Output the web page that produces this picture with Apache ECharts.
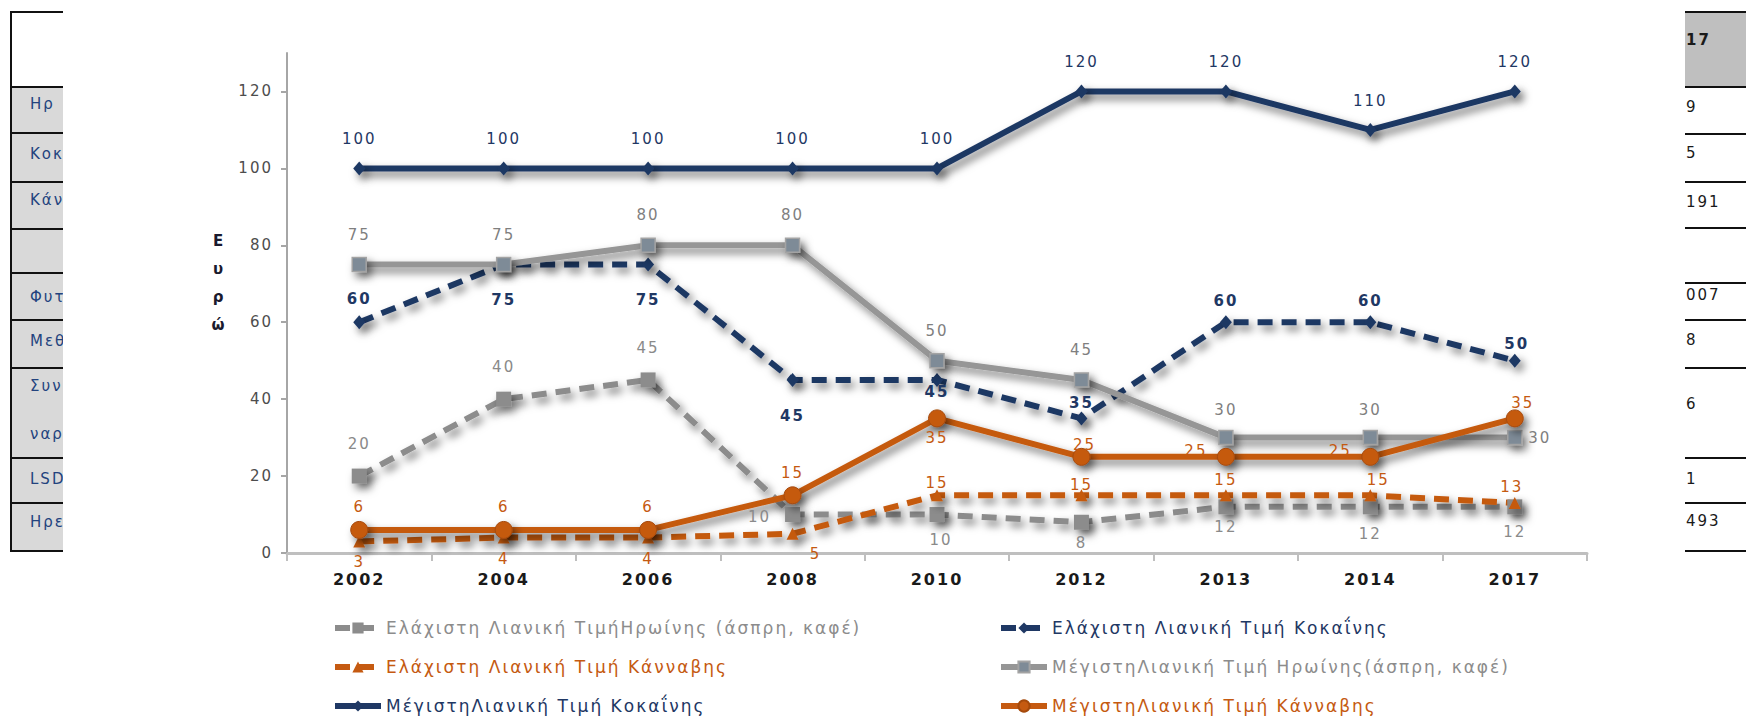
<!DOCTYPE html>
<html>
<head>
<meta charset="utf-8">
<script src="https://cdn.jsdelivr.net/npm/echarts@6/dist/echarts.min.js"></script>
<style>
  html, body { margin: 0; padding: 0; background: #ffffff; }
  #chart { width: 1746px; height: 719px; letter-spacing: 2px; }
</style>
</head>
<body>
<div id="chart"></div>
<script>
// Retail drug prices (euro) by year
const years = ['2002', '2004', '2006', '2008', '2010', '2012', '2013', '2014', '2017'];
const minHeroin   = [20, 40, 45, 10, 10, 8, 12, 12, 12];
const minCocaine  = [60, 75, 75, 45, 45, 35, 60, 60, 50];
const minCannabis = [3, 4, 4, 5, 15, 15, 15, 15, 13];
const maxHeroin   = [75, 75, 80, 80, 50, 45, 30, 30, 30];
const maxCocaine  = [100, 100, 100, 100, 100, 120, 120, 110, 120];
const maxCannabis = [6, 6, 6, 15, 35, 25, 25, 25, 35];
const yTicks = [0, 20, 40, 60, 80, 100, 120];
const yAxisTitle = ['Ε', 'υ', 'ρ', 'ώ'];

const seriesNames = {
  minHeroin: 'Ελάχιστη Λιανική ΤιμήΗρωίνης (άσπρη, καφέ)',
  minCocaine: 'Ελάχιστη Λιανική Τιμή Κοκαΐνης',
  minCannabis: 'Ελάχιστη Λιανική Τιμή Κάνναβης',
  maxHeroin: 'ΜέγιστηΛιανική Τιμή Ηρωίνης(άσπρη, καφέ)',
  maxCocaine: 'ΜέγιστηΛιανική Τιμή Κοκαΐνης',
  maxCannabis: 'ΜέγιστηΛιανική Τιμή Κάνναβης'
};

// Fragments of the table that sits behind the chart
const leftRowTexts = ['Ηρ', 'Κοκ', 'Κάν', '', 'Φυτ', 'Μεθ', 'Συν', 'ναρ', 'LSD', 'Ηρε'];
const rightColTexts = ['17', '9', '5', '191', '', '007', '8', '6', '', '1', '493'];

// Label nudges (dx, dy) from each point's centre
const labelNudge = {
  minHeroin:   [[0, -32], [0, -32], [0, -32], [-33, 2], [4, 25], [0, 21], [0, 20], [0, 27], [0, 25]],
  minCocaine:  [[0, -23], [0, 35], [0, 35], [0, 36], [0, 12], [0, -15], [0, -21], [0, -21], [2, -17]],
  minCannabis: [[0, 21], [0, 21], [0, 21], [23, 20], [0, -12], [0, -10], [0, -15], [8, -15], [-3, -16]],
  maxHeroin:   [[0, -30], [0, -30], [0, -30], [0, -30], [0, -30], [0, -30], [0, -28], [0, -28], [25, 0]],
  maxCocaine:  [[0, -29], [0, -29], [0, -29], [0, -29], [0, -29], [0, -29], [0, -29], [0, -29], [0, -29]],
  maxCannabis: [[0, -23], [0, -23], [0, -23], [0, -22], [0, 20], [3, -12], [-30, -6], [-30, -6], [8, -15]]
};

const NAVY = '#1f3864';
const GREY = '#8c8c8c';
const ORANGE = '#c55a11';
const FONT = '"DejaVu Sans", sans-serif';

const shadow = {
  shadowColor: 'rgba(0,0,0,0.55)',
  shadowBlur: 8,
  shadowOffsetX: 4,
  shadowOffsetY: 5
};

function lineSeries(key, values, cfg) {
  return {
    name: seriesNames[key],
    type: 'line',
    data: values.map((v, i) => ({ value: v, label: { offset: labelNudge[key][i] } })),
    symbol: cfg.symbol,
    symbolSize: cfg.size,
    lineStyle: Object.assign({
      color: cfg.color,
      width: 6,
      type: cfg.dashed ? [15, 9] : 'solid'
    }, shadow),
    itemStyle: Object.assign({
      color: cfg.fill || cfg.color,
      borderColor: cfg.border || cfg.color,
      borderWidth: cfg.borderWidth || 0
    }, shadow),
    label: {
      show: true,
      position: 'inside',
      color: cfg.labelColor,
      fontSize: 15,
      fontWeight: cfg.labelWeight || 'normal',
      fontFamily: FONT
    },
    emphasis: { disabled: true },
    silent: true,
    animation: false
  };
}

// Table background pieces
const graphics = [];
const leftBorders = [12, 87, 133, 182, 229, 273, 320, 368, 458, 503, 551];
const rightBorders = [12, 87, 134, 182, 228, 283, 320, 368, 458, 503, 551];
const LEFT_X0 = 10, LEFT_X1 = 63, RIGHT_X0 = 1685, RIGHT_X1 = 1746;

graphics.push({
  type: 'rect', z: -20, silent: true,
  shape: { x: LEFT_X0, y: leftBorders[1], width: LEFT_X1 - LEFT_X0, height: leftBorders[leftBorders.length - 1] - leftBorders[1] },
  style: { fill: '#d9d9d9' }
});
graphics.push({
  type: 'rect', z: -20, silent: true,
  shape: { x: RIGHT_X0, y: rightBorders[0], width: RIGHT_X1 - RIGHT_X0, height: rightBorders[1] - rightBorders[0] },
  style: { fill: '#bfbfbf' }
});
leftBorders.forEach(y => graphics.push({
  type: 'line', z: -19, silent: true,
  shape: { x1: LEFT_X0, y1: y, x2: LEFT_X1, y2: y },
  style: { stroke: '#111', lineWidth: 2 }
}));
graphics.push({
  type: 'line', z: -19, silent: true,
  shape: { x1: LEFT_X0 + 1, y1: leftBorders[0], x2: LEFT_X0 + 1, y2: leftBorders[leftBorders.length - 1] },
  style: { stroke: '#111', lineWidth: 2 }
});
rightBorders.forEach(y => graphics.push({
  type: 'line', z: -19, silent: true,
  shape: { x1: RIGHT_X0, y1: y, x2: RIGHT_X1, y2: y },
  style: { stroke: '#111', lineWidth: 2 }
}));
const leftTextY = [104, 154, 200, 251, 297, 341, 386, 434, 479, 522];
leftRowTexts.forEach((t, i) => {
  if (!t) return;
  graphics.push({
    type: 'text', z: -18, silent: true, x: 30, y: leftTextY[i],
    style: { text: t, fill: '#23437e', font: '15px ' + FONT, verticalAlign: 'middle' }
  });
});
const rightTextY = [40, 107, 153, 202, 250, 295, 340, 404, 440, 479, 521];
rightColTexts.forEach((t, i) => {
  if (!t) return;
  graphics.push({
    type: 'text', z: -18, silent: true, x: RIGHT_X0 + 1, y: rightTextY[i],
    style: { text: t, fill: '#1a1a1a', font: (i === 0 ? 'bold ' : '') + '15px ' + FONT, verticalAlign: 'middle' }
  });
});
// white area of the chart laid over the table
graphics.push({
  type: 'rect', z: -10, silent: true,
  shape: { x: LEFT_X1, y: 0, width: RIGHT_X0 - LEFT_X1, height: 719 },
  style: { fill: '#ffffff' }
});
// vertical axis title, one letter per line
yAxisTitle.forEach((ch, i) => {
  graphics.push({
    type: 'text', z: 5, silent: true, x: 219, y: 241 + i * 28,
    style: { text: ch, fill: '#1a1a2e', font: 'bold 15px ' + FONT, align: 'center', verticalAlign: 'middle' }
  });
});

function legendItems(keys) {
  const colours = {
    minHeroin: '#8c8c8c', minCocaine: NAVY, minCannabis: ORANGE,
    maxHeroin: '#8c8c8c', maxCocaine: NAVY, maxCannabis: ORANGE
  };
  return keys.map(k => ({ name: seriesNames[k], textStyle: { color: colours[k] } }));
}

const legendBase = {
  orient: 'vertical',
  top: 619,
  padding: 0,
  itemWidth: 46,
  itemHeight: 14,
  itemGap: 21,
  selectedMode: false,
  lineStyle: { width: 6 },
  textStyle: { fontSize: 17, fontFamily: FONT, lineHeight: 18 }
};

const option = {
  backgroundColor: '#ffffff',
  animation: false,
  graphic: graphics,
  grid: { left: 287, right: 159, top: 53, bottom: 166, containLabel: false, outerBoundsMode: 'none' },
  legend: [
    Object.assign({ left: 332, data: legendItems(['minHeroin', 'minCannabis', 'maxCocaine']) }, legendBase),
    Object.assign({ left: 998, data: legendItems(['minCocaine', 'maxHeroin', 'maxCannabis']) }, legendBase)
  ],
  xAxis: {
    type: 'category',
    data: years,
    boundaryGap: true,
    axisLine: { show: true, lineStyle: { color: '#bfbfbf', width: 3 } },
    axisTick: { show: true, length: 8, lineStyle: { color: '#bfbfbf', width: 2 } },
    axisLabel: { color: '#1a1a1a', fontWeight: 'bold', fontSize: 16, fontFamily: FONT, margin: 18 },
    splitLine: { show: false }
  },
  yAxis: {
    type: 'value',
    min: 0,
    max: 130,
    interval: 20,
    axisLine: { show: true, lineStyle: { color: '#a6a6a6', width: 2 } },
    axisTick: { show: true, length: 6, lineStyle: { color: '#a6a6a6', width: 2 }, customValues: yTicks },
    axisLabel: {
      customValues: yTicks,
      color: '#4d4d4d', fontSize: 15, fontFamily: FONT, margin: 14,
      formatter: v => (yTicks.indexOf(v) >= 0 ? String(v) : '')
    },
    splitLine: { show: false }
  },
  series: [
    lineSeries('minHeroin', minHeroin, { symbol: 'rect', size: 15, color: GREY, dashed: true, labelColor: '#8a8a8a' }),
    lineSeries('minCocaine', minCocaine, { symbol: 'diamond', size: [12, 14], color: NAVY, dashed: true, labelColor: NAVY, labelWeight: 'bold' }),
    lineSeries('minCannabis', minCannabis, { symbol: 'triangle', size: 12, color: ORANGE, dashed: true, labelColor: ORANGE }),
    lineSeries('maxHeroin', maxHeroin, { symbol: 'rect', size: 14, color: '#969696', fill: '#7e8b97', border: '#a3a3a3', borderWidth: 1.5, labelColor: '#7f7f7f' }),
    lineSeries('maxCocaine', maxCocaine, { symbol: 'diamond', size: [12, 14], color: NAVY, labelColor: NAVY }),
    lineSeries('maxCannabis', maxCannabis, { symbol: 'circle', size: 17, color: ORANGE, border: '#a54a0c', borderWidth: 1, labelColor: ORANGE })
  ]
};

const chart = echarts.init(document.getElementById('chart'), null, { renderer: 'svg' });
chart.setOption(option);
</script>
</body>
</html>
